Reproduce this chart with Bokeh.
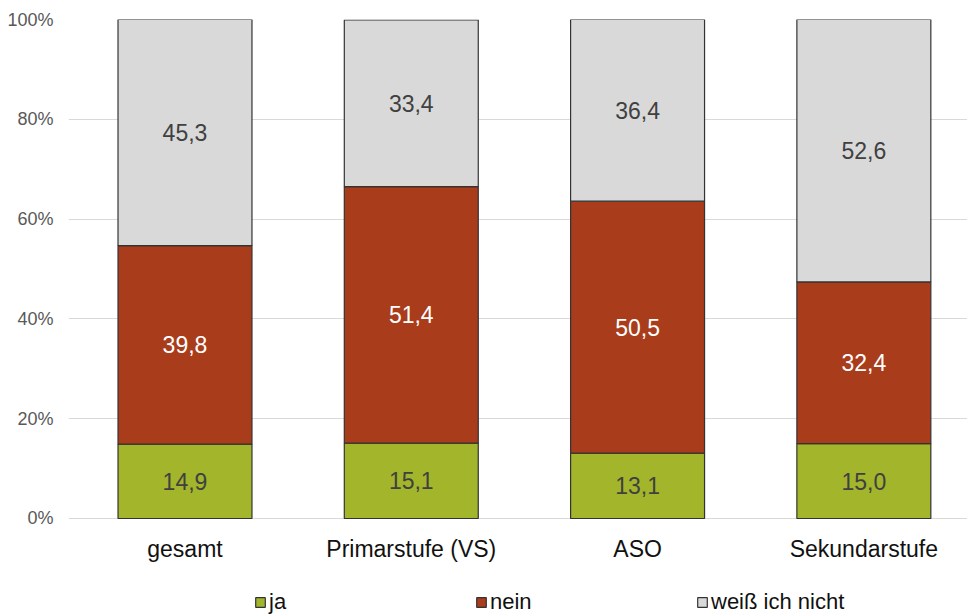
from bokeh.plotting import figure
from bokeh.models import ColumnDataSource, FixedTicker, Legend, LegendItem
from bokeh.core.properties import value
from bokeh.embed import file_html
from bokeh.resources import INLINE

categories = ["gesamt", "Primarstufe (VS)", "ASO", "Sekundarstufe"]
ja = [14.9, 15.1, 13.1, 15.0]
nein = [39.8, 51.4, 50.5, 32.4]
weiss = [45.3, 33.4, 36.4, 52.6]
series_names = ["ja", "nein", "weiß ich nicht"]
colors = ["#a3b62b", "#a93c1b", "#d9d9d9"]
label_colors = ["#404040", "#ffffff", "#404040"]
y_ticks = [0, 20, 40, 60, 80, 100]

FONT = "Liberation Sans"

# frame extends below 0 to hold the category labels and the legend
p = figure(width=967, height=615, output_backend="svg", toolbar_location=None,
           x_range=(-0.5148, 3.458), y_range=(-19.44, 100), x_axis_location=None,
           min_border_left=68, min_border_right=0, min_border_top=19, min_border_bottom=0)
p.outline_line_color = None
p.background_fill_color = "white"

x = list(range(len(categories)))
series = [ja, nein, weiss]
bottoms = [0.0] * len(categories)
renderers = []
for name, vals, col, lcol in zip(series_names, series, colors, label_colors):
    tops = [b + v for b, v in zip(bottoms, vals)]
    mids = [(b + t) / 2 for b, t in zip(bottoms, tops)]
    src = ColumnDataSource(dict(x=x, bottom=bottoms, top=tops, mid=mids,
                                lbl=[f"{v:.1f}".replace(".", ",") for v in vals]))
    r = p.vbar(x="x", bottom="bottom", top="top", width=0.592, source=src,
               fill_color=col, line_color="#333333", line_width=1.2)
    renderers.append(r)
    p.text(x="x", y="mid", text="lbl", source=src, text_align="center",
           text_baseline="middle", text_font=value(FONT), text_font_size="23px",
           text_color=lcol)
    bottoms = tops

# category labels below the 0% line
cat_src = ColumnDataSource(dict(x=x, y=[0] * len(categories), t=categories))
p.text(x="x", y="y", text="t", source=cat_src, y_offset=31, text_align="center",
       text_baseline="middle", text_font=value(FONT), text_font_size="23px",
       text_color="#111111")

# y axis
p.yaxis.ticker = FixedTicker(ticks=y_ticks)
p.yaxis.major_label_overrides = {t: f"{t}%" for t in y_ticks}
p.yaxis.axis_line_color = None
p.yaxis.major_tick_line_color = None
p.yaxis.minor_tick_line_color = None
p.yaxis.major_label_text_font = FONT
p.yaxis.major_label_text_font_size = "18px"
p.yaxis.major_label_text_color = "#595959"
p.yaxis.major_label_standoff = 9

p.xgrid.grid_line_color = None
p.ygrid.ticker = FixedTicker(ticks=y_ticks)
p.ygrid.grid_line_color = "#d9d9d9"
p.ygrid.grid_line_width = 1

legend = Legend(items=[LegendItem(label=n, renderers=[r]) for n, r in zip(series_names, renderers)],
                orientation="horizontal", location=(186, 0),
                glyph_width=12, glyph_height=12, label_standoff=3, spacing=0,
                label_width=206, label_height=20, label_text_font=FONT, label_text_font_size="22px",
                label_text_color="#111111", border_line_color=None,
                background_fill_alpha=0, padding=0, margin=0)
p.add_layout(legend, "center")

open("out.html", "w").write(file_html(p, INLINE))
